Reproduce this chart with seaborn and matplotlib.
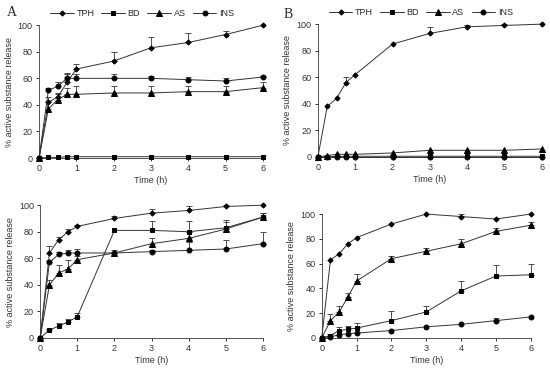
import matplotlib
matplotlib.use("Agg")
import matplotlib.pyplot as plt
import numpy as np
import pandas as pd
import seaborn as sns

# time points (h)
time = [0, 0.25, 0.5, 0.75, 1, 2, 3, 4, 5, 6]
names = ["TPH", "BD", "AS", "INS"]

# panel A, top
a_top_tph = [0, 42, 46, 57, 67, 73, 83, 87, 93, 100]
a_top_bd = [0, 0.5, 0.5, 1, 1, 1, 1, 1, 1, 1]
a_top_as = [0, 37, 44, 48, 48, 49, 49, 50, 50, 53]
a_top_ins = [0, 51, 54, 60, 60, 60, 60, 59, 58, 61]
a_top_tph_err = [0, 4, 3, 6, 4, 7, 8, 7, 3, 0]
a_top_bd_err = [0, 0, 0, 0, 0, 0, 0, 0, 0, 0]
a_top_as_err = [0, 6, 4, 5, 6, 5, 5, 4, 4, 4]
a_top_ins_err = [0, 2, 3, 4, 3, 3, 2, 2, 2, 1]

# panel B, top
b_top_tph = [0, 38, 44, 56, 62, 85, 93, 98, 99, 100]
b_top_bd = [0, 0, 0.5, 0.5, 0.5, 0.5, 0.5, 0.5, 0.5, 0.5]
b_top_as = [0, 1, 2, 2, 2, 3, 5, 5, 5, 6]
b_top_ins = [0, 0, 0, 0, 0, 0, 0, 0, 0, 0]
b_top_tph_err = [0, 0, 0, 4, 0, 0, 5, 1, 1, 0]
b_top_bd_err = [0, 0, 0, 0, 0, 0, 0, 0, 0, 0]
b_top_as_err = [0, 0, 0, 0, 0, 0, 0, 0, 0, 0]
b_top_ins_err = [0, 0, 0, 0, 0, 0, 0, 0, 0, 0]

# panel A, bottom
a_bot_tph = [0, 64, 74, 80, 84, 90, 94, 96, 99, 100]
a_bot_bd = [0, 6, 9, 12, 16, 81, 81, 80, 83, 91]
a_bot_as = [0, 40, 49, 52, 59, 64, 71, 75, 82, 91]
a_bot_ins = [0, 57, 63, 64, 64, 64, 65, 66, 67, 71]
a_bot_tph_err = [0, 5, 2, 2, 1, 2, 3, 3, 1, 0]
a_bot_bd_err = [0, 1, 2, 2, 3, 0, 7, 8, 6, 3]
a_bot_as_err = [0, 4, 6, 7, 3, 2, 4, 5, 5, 3]
a_bot_ins_err = [0, 2, 2, 2, 3, 1, 1, 6, 7, 9]

# panel B, bottom
b_bot_tph = [0, 63, 68, 76, 81, 92, 100, 98, 96, 100]
b_bot_bd = [0, 2, 6, 7, 8, 14, 21, 38, 50, 51]
b_bot_as = [0, 14, 21, 33, 46, 64, 70, 76, 86, 91]
b_bot_ins = [0, 1, 2.5, 3.5, 4, 6, 9, 11, 14, 17]
b_bot_tph_err = [0, 0, 0, 0, 0, 0, 0, 2, 0, 0]
b_bot_bd_err = [0, 1, 3, 3, 4, 8, 5, 8, 9, 9]
b_bot_as_err = [0, 5, 5, 3, 6, 2, 3, 4, 3, 3]
b_bot_ins_err = [0, 0, 0, 0, 0, 0, 0, 0, 2, 0]

sns.set_theme(style="ticks")
plt.rcParams['font.family'] = ['Liberation Sans', 'DejaVu Sans']

markers = {"TPH": "D", "BD": "s", "AS": "^", "INS": "o"}
msizes = {"TPH": 2.6, "BD": 3.5, "AS": 4.5, "INS": 3.5}

fig = plt.figure(figsize=(5.5, 3.71), dpi=100)


def panel(rect, values, errors, legend):
    ax = fig.add_axes(rect)
    for name, vals, err in zip(names, values, errors):
        sns.lineplot(x=time, y=vals, ax=ax, color="#333333", lw=0.7,
                     marker=markers[name], markersize=msizes[name],
                     markerfacecolor="black", markeredgecolor="black",
                     label=name, legend=legend, clip_on=False, zorder=3)
        # upward-only error bars, skipping points without error
        t = np.array(time)
        v = np.array(vals, dtype=float)
        e = np.array(err, dtype=float)
        keep = e > 0
        if keep.any():
            ax.errorbar(t[keep], v[keep], yerr=[np.zeros(keep.sum()), e[keep]],
                        fmt="none", ecolor="#333333", elinewidth=0.6,
                        capsize=2, capthick=0.6, clip_on=False)
    ax.set_xlim(0, 6)
    ax.set_ylim(0, 100)
    ax.set_xticks([0, 1, 2, 3, 4, 5, 6])
    ax.set_yticks([0, 20, 40, 60, 80, 100])
    ax.tick_params(labelsize=6.5, length=2.5, width=0.7, pad=2, colors="#333333")
    for s in ["left", "bottom"]:
        ax.spines[s].set_linewidth(0.7)
        ax.spines[s].set_color("#555555")
    sns.despine(ax=ax)
    ax.set_xlabel("Time (h)", fontsize=6.5, labelpad=2, color="#333333")
    ax.set_ylabel("% active substance release", fontsize=6.5, labelpad=3,
                  color="#333333")
    if legend:
        ax.legend(loc="center", bbox_to_anchor=(0.46, 1.085), ncol=4,
                  frameon=False, fontsize=6.5, handlelength=2.6,
                  handletextpad=0.3, columnspacing=0.8, borderaxespad=0)
    return ax


panel([0.071, 0.574, 0.407, 0.358],
      [a_top_tph, a_top_bd, a_top_as, a_top_ins],
      [a_top_tph_err, a_top_bd_err, a_top_as_err, a_top_ins_err], True)
panel([0.578, 0.577, 0.407, 0.358],
      [b_top_tph, b_top_bd, b_top_as, b_top_ins],
      [b_top_tph_err, b_top_bd_err, b_top_as_err, b_top_ins_err], True)
panel([0.073, 0.089, 0.405, 0.358],
      [a_bot_tph, a_bot_bd, a_bot_as, a_bot_ins],
      [a_bot_tph_err, a_bot_bd_err, a_bot_as_err, a_bot_ins_err], False)
panel([0.585, 0.089, 0.380, 0.334],
      [b_bot_tph, b_bot_bd, b_bot_as, b_bot_ins],
      [b_bot_tph_err, b_bot_bd_err, b_bot_as_err, b_bot_ins_err], False)

fig.text(0.012, 0.965, "A", fontsize=10, family="Liberation Serif", va="center")
fig.text(0.515, 0.962, "B", fontsize=10, family="Liberation Serif", va="center")

fig.savefig("out.png", dpi=100)
